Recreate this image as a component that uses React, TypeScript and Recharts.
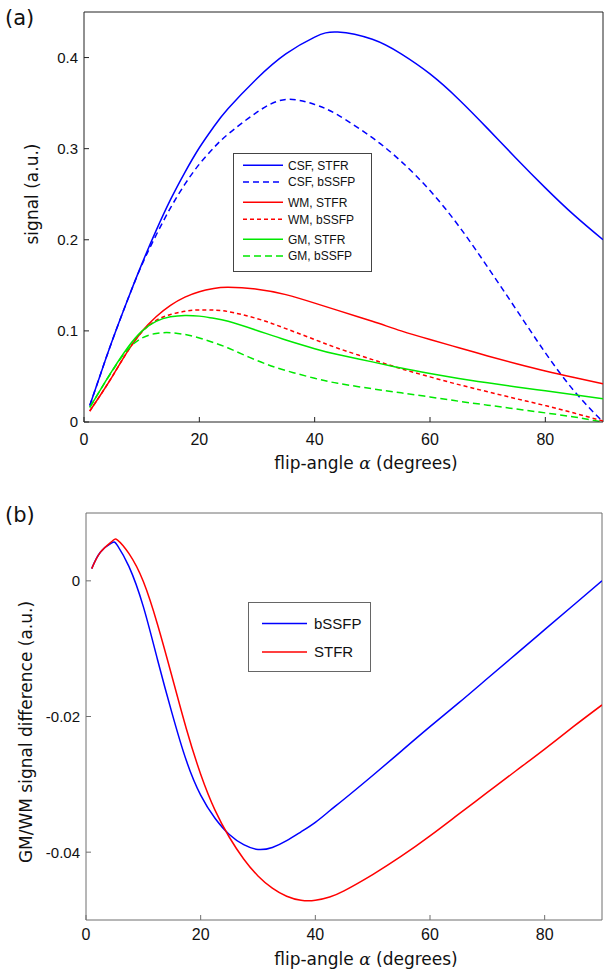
import React from "react";
import { LineChart, Line, XAxis, YAxis, ReferenceLine, Legend } from "recharts";

// panel (a): signal vs flip angle
const angleA = [1, 3, 5, 7.5, 10, 12.5, 15, 17.5, 20, 22.5, 25, 30, 35, 40, 44, 50, 55, 60, 65, 70, 75, 80, 85, 90];
const csfStfr = [0.018, 0.055, 0.091, 0.133, 0.173, 0.21, 0.244, 0.274, 0.301, 0.324, 0.344, 0.377, 0.404, 0.4225, 0.428, 0.42, 0.404, 0.382, 0.354, 0.322, 0.289, 0.257, 0.227, 0.2];
const csfBssfp = [0.018, 0.055, 0.091, 0.133, 0.172, 0.205, 0.235, 0.261, 0.283, 0.301, 0.316, 0.34, 0.354, 0.3485, 0.337, 0.312, 0.286, 0.254, 0.215, 0.17, 0.123, 0.076, 0.034, 0.0];
const wmStfr = [0.012, 0.031, 0.051, 0.077, 0.099, 0.1155, 0.128, 0.137, 0.143, 0.1465, 0.1478, 0.1458, 0.1398, 0.1305, 0.1225, 0.1105, 0.1, 0.0905, 0.0815, 0.0725, 0.064, 0.056, 0.0488, 0.042];
const wmBssfp = [0.012, 0.031, 0.051, 0.077, 0.0985, 0.1115, 0.118, 0.1215, 0.123, 0.1228, 0.1212, 0.1135, 0.1025, 0.0905, 0.081, 0.0685, 0.0585, 0.0495, 0.041, 0.0332, 0.0255, 0.018, 0.0098, 0.001];
const gmStfr = [0.016, 0.037, 0.0575, 0.081, 0.0995, 0.1105, 0.1155, 0.117, 0.1162, 0.1138, 0.1105, 0.1005, 0.09, 0.0805, 0.074, 0.066, 0.0592, 0.0532, 0.0478, 0.043, 0.0385, 0.0343, 0.03, 0.0255];
const gmBssfp = [0.016, 0.037, 0.057, 0.079, 0.092, 0.0972, 0.098, 0.096, 0.0922, 0.087, 0.0812, 0.0675, 0.0565, 0.048, 0.0425, 0.0365, 0.032, 0.0275, 0.0228, 0.0185, 0.0142, 0.01, 0.0055, 0.0];

// panel (b): GM/WM difference
const angleB = [1, 2.5, 4.5, 5.5, 7.5, 10, 12.5, 15, 17.5, 20, 22.5, 25, 27.5, 30, 32.5, 35, 37.5, 40, 42.5, 45, 50, 55, 60, 65, 70, 75, 80, 85, 90];
const diffBssfp = [0.0018, 0.0042, 0.0056, 0.0052, 0.0021, -0.0038, -0.0117, -0.0195, -0.0265, -0.0316, -0.035, -0.0374, -0.0389, -0.0396, -0.0393, -0.0383, -0.037, -0.0356, -0.0339, -0.0322, -0.0287, -0.0251, -0.0215, -0.018, -0.0144, -0.0108, -0.0072, -0.0036, 0.0];
const diffStfr = [0.0018, 0.0042, 0.0058, 0.006, 0.004, -0.0001, -0.0065, -0.0141, -0.0218, -0.0285, -0.0338, -0.0378, -0.041, -0.0435, -0.0453, -0.0465, -0.0471, -0.0471, -0.0466, -0.0457, -0.0433, -0.0406, -0.0376, -0.0344, -0.0312, -0.028, -0.0248, -0.0215, -0.0183];

const xTicks = [0, 20, 40, 60, 80];
const yTicksA = [0, 0.1, 0.2, 0.3, 0.4];
const yTicksB = [-0.04, -0.02, 0];

const BLUE = "#0000ff";
const RED = "#ff0000";
const GREEN = "#00e800";

const seriesA = [
  { key: "csfStfr", name: "CSF, STFR", color: BLUE, dash: undefined },
  { key: "csfBssfp", name: "CSF, bSSFP", color: BLUE, dash: "6 4" },
  { key: "wmStfr", name: "WM, STFR", color: RED, dash: undefined },
  { key: "wmBssfp", name: "WM, bSSFP", color: RED, dash: "4 3" },
  { key: "gmStfr", name: "GM, STFR", color: GREEN, dash: undefined },
  { key: "gmBssfp", name: "GM, bSSFP", color: GREEN, dash: "7 4" },
];
const seriesB = [
  { key: "bssfp", name: "bSSFP", color: BLUE },
  { key: "stfr", name: "STFR", color: RED },
];

const dataA = angleA.map((a, i) => ({
  angle: a,
  csfStfr: csfStfr[i],
  csfBssfp: csfBssfp[i],
  wmStfr: wmStfr[i],
  wmBssfp: wmBssfp[i],
  gmStfr: gmStfr[i],
  gmBssfp: gmBssfp[i],
}));
const dataB = angleB.map((a, i) => ({ angle: a, bssfp: diffBssfp[i], stfr: diffStfr[i] }));

const TICK_FONT = "'Liberation Sans', Arial, sans-serif";
const TITLE_FONT = "'DejaVu Sans', sans-serif";

const makeXTick = (color: string, dy: number) => (props: any) => {
  const { x, y, payload } = props;
  return (
    <g>
      <line x1={x} x2={x} y1={y} y2={y - 5} stroke={color} />
      <text x={x} y={y + dy} textAnchor="middle" fontFamily={TICK_FONT} fontSize={16} fill="#111">
        {payload.value}
      </text>
    </g>
  );
};

const makeYTick = (color: string) => (props: any) => {
  const { x, y, payload } = props;
  return (
    <g>
      <line x1={x} x2={x + 5} y1={y} y2={y} stroke={color} />
      <text x={x - 6} y={y} dy="0.36em" textAnchor="end" fontFamily={TICK_FONT} fontSize={15} fill="#111">
        {payload.value}
      </text>
    </g>
  );
};

const XTitle = ({ viewBox, dy }: any) => (
  <text x={366} y={viewBox.y + dy} textAnchor="middle" fontFamily={TITLE_FONT} fontSize={17} fill="#111">
    flip-angle{" "}
    <tspan fontFamily="'DejaVu Serif', serif" fontStyle="italic">α</tspan> (degrees)
  </text>
);

const YTitle = ({ cx, cy, text }: any) => (
  <text
    x={cx}
    y={cy}
    transform={`rotate(-90, ${cx}, ${cy})`}
    textAnchor="middle"
    fontFamily={TITLE_FONT}
    fontSize={17}
    fill="#111"
  >
    {text}
  </text>
);

const LegendA = () => (
  <svg width={139} height={119} style={{ display: "block" }}>
    <rect x={0.5} y={0.5} width={138} height={118} fill="#fff" stroke="#444" />
    {seriesA.map((s, i) => {
      const ys = [12.3, 29, 49.3, 66.3, 86.3, 103];
      return (
        <g key={s.key}>
          <line x1={10} x2={50} y1={ys[i]} y2={ys[i]} stroke={s.color} strokeWidth={1.5} strokeDasharray={s.dash} />
          <text x={55} y={ys[i]} dy="0.36em" fontFamily={TICK_FONT} fontSize={12} fill="#111">
            {s.name}
          </text>
        </g>
      );
    })}
  </svg>
);

const LegendB = () => (
  <svg width={123} height={70} style={{ display: "block" }}>
    <rect x={0.5} y={0.5} width={122} height={69} fill="#fff" stroke="#666" />
    {seriesB.map((s, i) => {
      const ys = [21.6, 50];
      return (
        <g key={s.key}>
          <line x1={14} x2={59} y1={ys[i]} y2={ys[i]} stroke={s.color} strokeWidth={1.5} />
          <text x={66} y={ys[i]} dy="0.36em" fontFamily={TICK_FONT} fontSize={15} fill="#111">
            {s.name}
          </text>
        </g>
      );
    })}
  </svg>
);

const AXIS_A = "#222";
const AXIS_B = "#6f6f6f";

export default function App() {
  return (
    <div style={{ position: "absolute", left: 0, top: 0, width: 611, height: 978, background: "#fff" }}>
      <div style={{ position: "absolute", left: 0, top: 0 }}>
        <LineChart width={611} height={480} data={dataA} margin={{ top: 12, right: 8, left: 24, bottom: 0 }}>
          <XAxis
            dataKey="angle"
            type="number"
            domain={[0, 90]}
            ticks={xTicks}
            allowDataOverflow
            height={58}
            tickSize={0}
            tickMargin={0}
            tickLine={false}
            axisLine={{ stroke: AXIS_A }}
            tick={makeXTick(AXIS_A, 23)}
            label={<XTitle dy={47} />}
          />
          <YAxis
            type="number"
            domain={[0, 0.45]}
            ticks={yTicksA}
            allowDataOverflow
            width={60}
            tickSize={0}
            tickMargin={0}
            tickLine={false}
            axisLine={{ stroke: AXIS_A }}
            tick={makeYTick(AXIS_A)}
            label={<YTitle cx={38} cy={194} text="signal (a.u.)" />}
          />
          <ReferenceLine y={0.45} stroke={AXIS_A} />
          <ReferenceLine x={90} stroke={AXIS_A} />
          {seriesA.map((s) => (
            <Line
              key={s.key}
              dataKey={s.key}
              name={s.name}
              type="natural"
              stroke={s.color}
              strokeWidth={1.5}
              strokeDasharray={s.dash}
              dot={false}
              activeDot={false}
              isAnimationActive={false}
            />
          ))}
          <Legend
            layout="horizontal"
            verticalAlign="middle"
            align="center"
            content={() => <LegendA />}
            wrapperStyle={{ left: 233, top: 153, width: 139, height: 119 }}
          />
        </LineChart>
      </div>
      <div style={{ position: "absolute", left: 0, top: 490 }}>
        <LineChart width={611} height={488} data={dataB} margin={{ top: 23, right: 9, left: 26, bottom: 0 }}>
          <XAxis
            dataKey="angle"
            type="number"
            domain={[0, 90]}
            ticks={xTicks}
            allowDataOverflow
            height={58}
            tickSize={0}
            tickMargin={0}
            tickLine={false}
            axisLine={{ stroke: AXIS_B }}
            tick={makeXTick(AXIS_B, 20)}
            label={<XTitle dy={45} />}
          />
          <YAxis
            type="number"
            domain={[-0.05, 0.01]}
            ticks={yTicksB}
            allowDataOverflow
            width={60}
            tickSize={0}
            tickMargin={0}
            tickLine={false}
            axisLine={{ stroke: AXIS_B }}
            tick={makeYTick(AXIS_B)}
            label={<YTitle cx={32} cy={242} text="GM/WM signal difference (a.u.)" />}
          />
          <ReferenceLine y={0.01} stroke={AXIS_B} />
          <ReferenceLine x={90} stroke={AXIS_B} />
          {seriesB.map((s) => (
            <Line
              key={s.key}
              dataKey={s.key}
              name={s.name}
              type="natural"
              stroke={s.color}
              strokeWidth={1.5}
              dot={false}
              activeDot={false}
              isAnimationActive={false}
            />
          ))}
          <Legend
            layout="horizontal"
            verticalAlign="middle"
            align="center"
            content={() => <LegendB />}
            wrapperStyle={{ left: 248, top: 112, width: 123, height: 70 }}
          />
        </LineChart>
      </div>
      <div style={{ position: "absolute", left: 5, top: 8, fontFamily: TITLE_FONT, fontSize: 21, lineHeight: 1, color: "#111" }}>
        (a)
      </div>
      <div style={{ position: "absolute", left: 5, top: 505, fontFamily: TITLE_FONT, fontSize: 21, lineHeight: 1, color: "#111" }}>
        (b)
      </div>
    </div>
  );
}
